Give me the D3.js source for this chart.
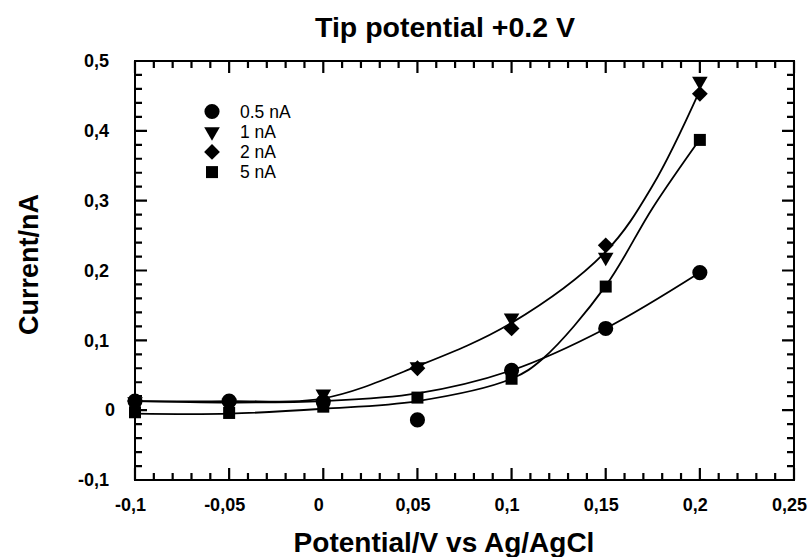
<!DOCTYPE html>
<html><head><meta charset="utf-8">
<script src="https://cdn.jsdelivr.net/npm/d3@7"></script>
<style>body{margin:0;background:#fff}svg{display:block}</style>
</head><body>
<svg id="chart" width="808" height="557"></svg>
<script>
// ---- data ----
const potentials = [-0.1, -0.05, 0, 0.05, 0.1, 0.15, 0.2];
const seriesNames = ["0.5 nA", "1 nA", "2 nA", "5 nA"];
const current05 = [0.013, 0.013, 0.012, -0.014, 0.057, 0.117, 0.197];
const current1  = [0.012, 0.010, 0.023, 0.062, 0.132, 0.219, 0.471];
const current2  = [0.013, 0.011, 0.014, 0.060, 0.117, 0.236, 0.453];
const current5  = [-0.003, -0.004, 0.005, 0.018, 0.045, 0.177, 0.387];

// fitted curves, positions
const fitUpperX  = [-0.1, -0.05, 0, 0.05, 0.1, 0.15, 0.175, 0.2];
const fitUpperY  = [0.013, 0.013, 0.017, 0.063, 0.125, 0.227, 0.322, 0.458];
const fitCircleX = [-0.1, -0.05, 0, 0.05, 0.1, 0.15, 0.2];
const fitCircleY = [0.013, 0.011, 0.013, 0.024, 0.057, 0.117, 0.197];
const fitSquareX = [-0.1, -0.05, 0, 0.05, 0.1, 0.1167, 0.15, 0.175, 0.2];
const fitSquareY = [-0.005, -0.005, 0.002, 0.013, 0.045, 0.074, 0.178, 0.29, 0.388];

const xTicks = [-0.1, -0.05, 0, 0.05, 0.1, 0.15, 0.2, 0.25];
const xTickLabels = ["-0,1", "-0,05", "0", "0,05", "0,1", "0,15", "0,2", "0,25"];
const yTicks = [-0.1, 0, 0.1, 0.2, 0.3, 0.4, 0.5];
const yTickLabels = ["-0,1", "0", "0,1", "0,2", "0,3", "0,4", "0,5"];

const titleText = "Tip potential +0.2 V";
const xTitle = "Potential/V vs Ag/AgCl";
const yTitle = "Current/nA";

// ---- layout ----
const FONT = "'Liberation Sans', Arial, Helvetica, sans-serif";
const L = 135, R = 794, T = 61, B = 480;
const svg = d3.select("#chart");
const x = d3.scaleLinear().domain([-0.1, 0.25]).range([L, R]);
const y = d3.scaleLinear().domain([-0.1, 0.5]).range([B, T]);

const xMinor = d3.range(-100, 251, 10).map(v => v / 1000);
const yMinor = d3.range(-100, 501, 20).map(v => v / 1000);

// tick labels from the axis generators
const xAx = svg.append("g").attr("transform", `translate(0,${B})`)
  .call(d3.axisBottom(x).tickValues(xTicks).tickSize(0).tickPadding(18)
    .tickFormat((d, i) => xTickLabels[i]));
xAx.select(".domain").remove();
xAx.selectAll("text").attr("font-family", FONT).attr("font-size", 18)
  .attr("font-weight", "bold").attr("fill", "#000").attr("dx", -5);

const yAx = svg.append("g").attr("transform", `translate(${L},0)`)
  .call(d3.axisLeft(y).tickValues(yTicks).tickSize(0).tickPadding(27)
    .tickFormat((d, i) => yTickLabels[i]));
yAx.select(".domain").remove();
yAx.selectAll("text").attr("font-family", FONT).attr("font-size", 18)
  .attr("font-weight", "bold").attr("fill", "#000")
  .attr("dx", d => d === 0 ? 7 : 1);

// frame
svg.append("rect").attr("x", L).attr("y", T).attr("width", R - L).attr("height", B - T)
  .attr("fill", "none").attr("stroke", "#000").attr("stroke-width", 2);

// ticks (inward on all four sides) as one path
let tickPath = "";
function xT(vals, len) {
  vals.forEach(v => {
    const px = x(v).toFixed(2);
    tickPath += `M${px},${B}V${B - len}M${px},${T}V${T + len}`;
  });
}
function yT(vals, len) {
  vals.forEach(v => {
    const py = y(v).toFixed(2);
    tickPath += `M${L},${py}H${L + len}M${R},${py}H${R - len}`;
  });
}
xT(xMinor, 7); xT(xTicks, 12); yT(yMinor, 7); yT(yTicks, 12);
svg.append("path").attr("d", tickPath).attr("fill", "none")
  .attr("stroke", "#000").attr("stroke-width", 2.2);

// fitted curves
const line = d3.line().x(d => x(d[0])).y(d => y(d[1])).curve(d3.curveCatmullRom.alpha(0.5));
[[fitUpperX, fitUpperY], [fitCircleX, fitCircleY], [fitSquareX, fitSquareY]].forEach(([xs, ys]) => {
  svg.append("path").datum(xs.map((v, i) => [v, ys[i]]))
    .attr("d", line).attr("fill", "none").attr("stroke", "#000").attr("stroke-width", 1.8);
});

// markers
const markers = [
  { vals: current05, type: d3.symbolCircle, size: 180, rot: 0 },
  { vals: current1, type: d3.symbolTriangle, size: 105, rot: 180 },
  { vals: current2, type: d3.symbolSquare, size: 125, rot: 45 },
  { vals: current5, type: d3.symbolSquare, size: 144, rot: 0 }
];
markers.forEach(m => {
  const sym = d3.symbol().type(m.type).size(m.size);
  svg.append("g").selectAll("path").data(potentials.map((p, i) => [p, m.vals[i]]))
    .join("path")
    .attr("d", sym)
    .attr("transform", d => `translate(${x(d[0])},${y(d[1])}) rotate(${m.rot})`)
    .attr("fill", "#000");
});

// legend
const legend = svg.append("g");
seriesNames.forEach((name, i) => {
  const cy = 111.5 + i * 20.2;
  const m = markers[i];
  legend.append("path").attr("d", d3.symbol().type(m.type).size(m.size))
    .attr("transform", `translate(212,${cy}) rotate(${m.rot})`).attr("fill", "#000");
  legend.append("text").attr("x", 240).attr("y", cy).attr("dy", "0.36em")
    .attr("font-family", FONT).attr("font-size", 17.5).attr("fill", "#000").text(name);
});

// titles
svg.append("text").attr("x", 445).attr("y", 37).attr("text-anchor", "middle")
  .attr("font-family", FONT).attr("font-size", 28.5).attr("font-weight", "bold").text(titleText);
svg.append("text").attr("x", 444).attr("y", 552).attr("text-anchor", "middle")
  .attr("font-family", FONT).attr("font-size", 28).attr("font-weight", "bold").text(xTitle);
svg.append("text").attr("transform", `translate(38,${(T + B) / 2 - 6}) rotate(-90)`)
  .attr("text-anchor", "middle")
  .attr("font-family", FONT).attr("font-size", 27).attr("font-weight", "bold").text(yTitle);
</script>
</body></html>
